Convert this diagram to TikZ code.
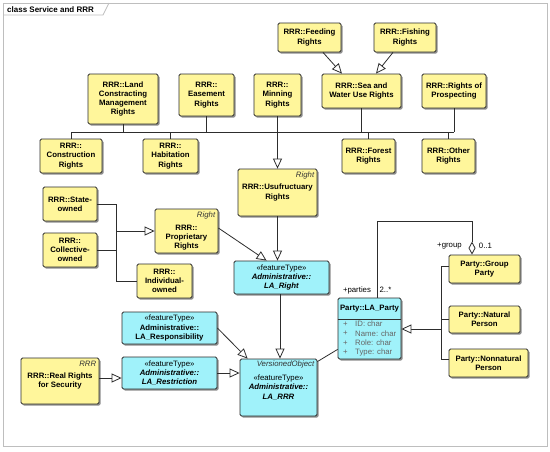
\documentclass[tikz,border=0pt]{standalone}
\usepackage{fontspec}
\setmainfont{Liberation Sans}
\usetikzlibrary{arrows.meta,shadows}
\definecolor{ybg}{RGB}{255,246,155}
\definecolor{cbg}{RGB}{160,242,250}
\definecolor{edgec}{RGB}{45,45,45}
\definecolor{framec}{RGB}{190,190,190}
\newcommand{\UBox}[7]{\node[#6, minimum width={(#4-#2)*1pt}, minimum height={(#5-#3)*1pt}] (#1) at ({(#2+#4)/2},{(#3+#5)/2}) {#7};}
\tikzset{
  umlbox/.style={draw=edgec, line width=0.8pt, rounded corners=1.5pt, inner sep=0pt, align=center,
    font=\fontsize{7.8}{9.3}\selectfont\bfseries,
    drop shadow={shadow xshift=1.6pt, shadow yshift=-1.6pt, fill=black!55, opacity=0.8}},
  ybox/.style={umlbox, fill=ybg},
  cbox/.style={umlbox, fill=cbg},
  txt/.style={inner sep=0pt, align=center, font=\fontsize{7.8}{9.3}\selectfont\bfseries},
  stereo/.style={inner sep=0pt, anchor=north east, font=\fontsize{7.8}{9}\selectfont\itshape, text=black!80},
  lab/.style={inner sep=0pt, font=\fontsize{7.8}{9}\selectfont},
  attr/.style={inner sep=0pt, anchor=west, font=\fontsize{7.8}{9}\selectfont, text=black!60},
  conn/.style={draw=edgec, line width=0.8pt},
  gen/.style={conn, -{Triangle[open, length=10pt, width=9pt, fill=white]}},
  agg/.style={conn, -{Diamond[open, length=13pt, width=7pt, fill=white]}}
}
\begin{document}
\begin{tikzpicture}[x=1pt,y=-1pt]
\fill[white] (0,0) rectangle (550,451);
% frame
\draw[framec, line width=0.8pt] (3,3) rectangle (547,446);
\draw[framec, line width=0.8pt] (3,15) -- (103,15) -- (109,3);
\node[inner sep=0pt, anchor=west, font=\fontsize{8}{9}\selectfont\bfseries] (title) at (7,9.5) {class Service and RRR};

% boxes
\UBox{feed}{278}{23}{341}{52}{ybox}{RRR::Feeding\\Rights}
\UBox{fish}{374}{23}{436}{52}{ybox}{RRR::Fishing\\Rights}
\UBox{land}{88}{74}{158}{124}{ybox}{RRR::Land\\Constracting\\Management\\Rights}
\UBox{ease}{179}{74}{234}{116}{ybox}{RRR::\\Easement\\Rights}
\UBox{minn}{254}{74}{301}{116}{ybox}{RRR::\\Minning\\Rights}
\UBox{sea}{322}{74}{401}{108}{ybox}{RRR::Sea and\\Water Use Rights}
\UBox{prosp}{422}{74}{486}{108}{ybox}{RRR::Rights of\\Prospecting}
\UBox{constr}{40}{139}{102}{173}{ybox}{RRR::\\Construction\\Rights}
\UBox{habit}{143}{139}{198}{173}{ybox}{RRR::\\Habitation\\Rights}
\UBox{forest}{342}{139}{395}{173}{ybox}{RRR::Forest\\Rights}
\UBox{other}{422}{139}{475}{173}{ybox}{RRR::Other\\Rights}
\UBox{usuf}{238}{169}{317}{216}{ybox}{RRR::Usufructuary\\Rights}
\node[stereo] (usufst) at ([xshift=-3pt,yshift=-3pt]usuf.north east) {Right};
\UBox{state}{43}{187}{97}{221}{ybox}{RRR::State-\\owned}
\UBox{coll}{43}{233}{97}{267}{ybox}{RRR::\\Collective-\\owned}
\UBox{prop}{155}{209}{218}{253}{ybox}{}
\node[txt] (proptxt) at (186.5,237.5) {RRR::\\Proprietary\\Rights};
\node[stereo] (propst) at ([xshift=-3pt,yshift=-3pt]prop.north east) {Right};
\UBox{indiv}{137}{264}{192}{298}{ybox}{RRR::\\Individual-\\owned}
\UBox{laright}{234}{261}{329}{294}{cbox}{{\mdseries «featureType»}\\\textit{Administrative::}\\\textit{LA\_Right}}
\UBox{resp}{122}{312}{217}{344}{cbox}{{\mdseries «featureType»}\\Administrative::\\LA\_Responsibility}
\UBox{restr}{122}{357}{217}{389}{cbox}{{\mdseries «featureType»}\\\textit{Administrative::}\\\textit{LA\_Restriction}}
\UBox{realr}{21}{358}{99}{404}{ybox}{RRR::Real Rights\\for Security}
\node[stereo] (realrst) at ([xshift=-3pt,yshift=-3pt]realr.north east) {RRR};
\UBox{larrr}{240}{359}{317}{416}{cbox}{{\mdseries «featureType»}\\\textit{Administrative::}\\\textit{LA\_RRR}}
\node[stereo] (larrrst) at ([xshift=-3pt,yshift=-2pt]larrr.north east) {VersionedObject};
\UBox{party}{338}{298}{401}{359}{cbox}{}
\draw[conn] (party.west |- 0,319) -- (party.east |- 0,319);
\node[txt] (partyhd) at (369.5,309) {Party::LA\_Party};
\node[attr] (pa1) at (343,324) {+};
\node[attr] (pa2) at (343,333.5) {+};
\node[attr] (pa3) at (343,343) {+};
\node[attr] (pa4) at (343,352.5) {+};
\node[attr] (pb1) at (355,324) {ID: char};
\node[attr] (pb2) at (355,333.5) {Name: char};
\node[attr] (pb3) at (355,343) {Role: char};
\node[attr] (pb4) at (355,352.5) {Type: char};
\UBox{group}{449}{255}{520}{283}{ybox}{Party::Group\\Party}
\UBox{natural}{449}{306}{520}{333}{ybox}{Party::Natural\\Person}
\UBox{nonnat}{449}{349}{528}{377}{ybox}{Party::Nonnatural\\Person}

% top generalization tree
\coordinate (busL) at (71,132);
\coordinate (busR) at (454,132);
\draw[conn] (busL) -- (busR);
\foreach \n in {land,ease,sea,prosp} {\draw[conn] (\n.south) -- (\n.south |- busL);}
\foreach \n in {constr,habit,forest,other} {\draw[conn] (\n.north) -- (\n.north |- busL);}
\draw[gen] (minn.south) -- (usuf.north);
\draw[gen] ([xshift=13.5pt]feed.south) -- ([xshift=-19.5pt]sea.north);
\draw[gen] ([xshift=-12pt]fish.south) -- ([xshift=14.5pt]sea.north);

% rights
\draw[gen] (usuf.south) -- (usuf.south |- laright.north);
\draw[gen] ([yshift=3pt]prop.east) -- ([xshift=33pt]laright.north west);
\coordinate (ownJ) at (116,231);
\draw[conn] (state.east) -| (ownJ);
\draw[conn] (indiv.west) -| (ownJ);
\draw[conn] (coll.east) -- (coll.east -| ownJ);
\draw[gen] (ownJ) -- (prop.west);
\draw[gen] ([xshift=-1.5pt]laright.south) -- ([xshift=-1.5pt]laright.south |- larrr.north);
\draw[gen] (resp.east) -- ([xshift=8pt]larrr.north west);
\draw[gen] (restr.east) -- (restr.east -| larrr.west);
\draw[gen] ([yshift=3pt]realr.east) -- ([yshift=3pt]realr.east -| restr.west);
\draw[conn] ([yshift=-3pt]larrr.north east) -- ([yshift=10pt]party.south west);

% party tree
\coordinate (ptJ) at (441,329);
\draw[conn] ([yshift=3pt]group.west) -| (ptJ);
\draw[conn] ([yshift=4pt]nonnat.west) -| (ptJ);
\draw[conn] (natural.west) -- (natural.west -| ptJ);
\draw[gen] (ptJ) -- (ptJ -| party.east);

% aggregation
\coordinate (aggC) at (472,221);
\draw[agg] ([xshift=7.5pt]party.north) |- (aggC) -- (aggC |- group.north);
\node[lab] (lgroup) at (449.5,246) {+group};
\node[lab] (lm1) at (485.5,246) {0..1};
\node[lab] (lparties) at (357,290) {+parties};
\node[lab] (lm2) at (385.5,290) {2..*};
\end{tikzpicture}
\end{document}
